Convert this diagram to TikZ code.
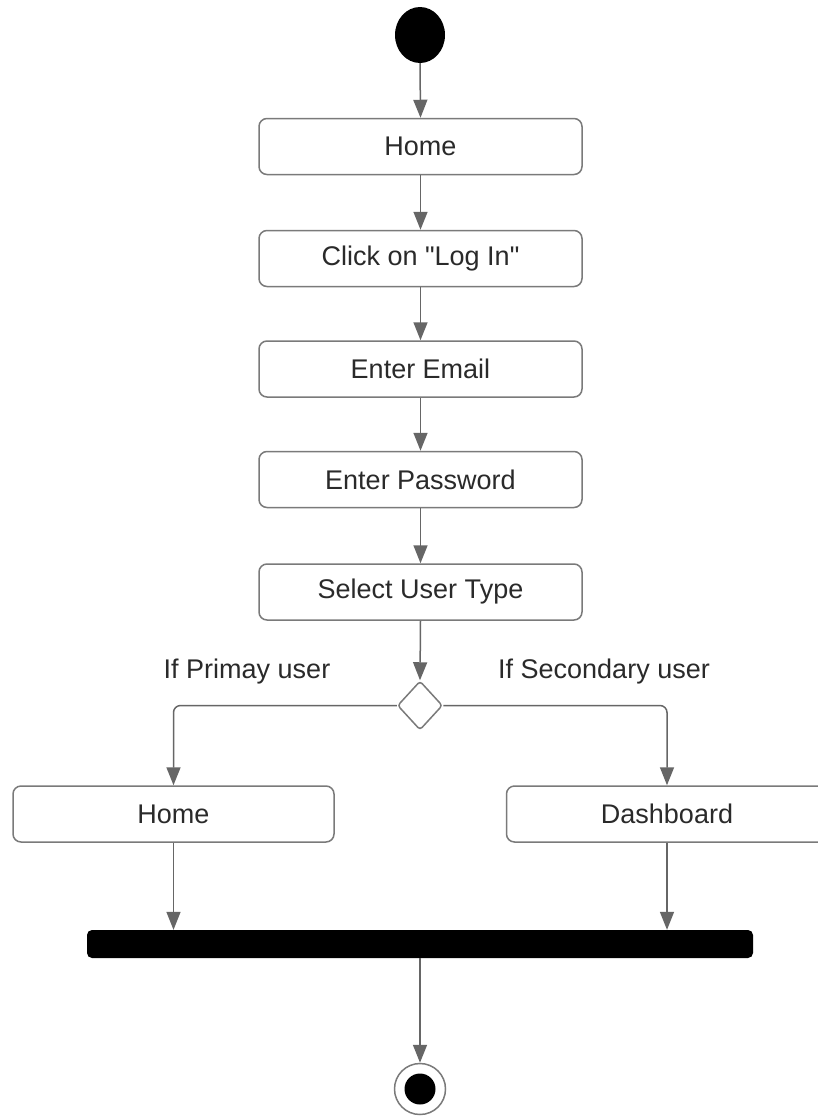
\documentclass[tikz,border=0pt]{standalone}
\usepackage{fontspec}
\setmainfont{Liberation Sans}[Ligatures=TeXOff]
\usetikzlibrary{shapes.geometric,arrows.meta}
\definecolor{linegray}{HTML}{666666}
\definecolor{boxgray}{HTML}{7A7A7A}
\definecolor{txtgray}{HTML}{2A2A2A}
\tikzset{
  actbox/.style={draw=boxgray, line width=1.5pt, rounded corners=8pt, fill=white,
    minimum width=323pt, minimum height=56pt, inner sep=0pt, text=txtgray,
    font=\fontsize{27}{32}\selectfont},
  flow/.style={draw=linegray, line width=1.5pt,
    -{Triangle[length=18pt,width=14pt,fill=linegray]}},
  lbl/.style={text=txtgray, font=\fontsize{27}{32}\selectfont, inner sep=0pt}
}
\begin{document}
\begin{tikzpicture}[x=1pt,y=-1pt]
\useasboundingbox (0,0) rectangle (818,1117);
\clip (0,0) rectangle (818,1117);
\fill[white] (0,0) rectangle (818,1117);

\node[ellipse, fill=black, minimum width=50pt, minimum height=56pt, inner sep=0pt] (start) at (420,35) {};
\node[actbox] (home) at (420.5,146.5) {Home};
\node[actbox] (login) at (420.5,258.5) {Click on "Log In"};
\node[actbox] (email) at (420.5,369) {Enter Email};
\node[actbox] (pass) at (420.5,479.5) {Enter Password};
\node[actbox] (type) at (420.5,592) {Select User Type};
\node[diamond, draw=boxgray, line width=1.5pt, fill=white, minimum width=45pt, minimum height=49pt, inner sep=0pt, rounded corners=3pt] (dec) at (420,705.5) {};
\node[lbl] (lp) at (247,672) {If Primay user};
\node[lbl] (ls) at (604,672) {If Secondary user};
\node[actbox, minimum width=321pt] (home2) at (173.5,814) {Home};
\node[actbox, minimum width=321pt] (dash) at (667,814) {Dashboard};
\node[fill=black, minimum width=666pt, minimum height=28pt, rounded corners=5pt, inner sep=0pt] (bar) at (420,944) {};
\node[circle, draw=boxgray, line width=1.5pt, minimum size=51pt, inner sep=0pt] (end) at (420,1089) {};
\node[circle, fill=black, minimum size=31pt, inner sep=0pt] (endin) at (end.center) {};

\draw[flow] (start.south) -- (home.north);
\draw[flow] (home.south) -- (login.north);
\draw[flow] (login.south) -- (email.north);
\draw[flow] (email.south) -- (pass.north);
\draw[flow] (pass.south) -- (type.north);
\draw[flow] (type.south) -- (dec.north);
\draw[flow, rounded corners=7pt] (dec.west) -| (home2.north);
\draw[flow, rounded corners=7pt] (dec.east) -| (dash.north);
\draw[flow] (home2.south) -- (home2.south |- bar.north);
\draw[flow] (dash.south) -- (dash.south |- bar.north);
\draw[flow] (bar.south) -- (end.north);
\end{tikzpicture}
\end{document}
